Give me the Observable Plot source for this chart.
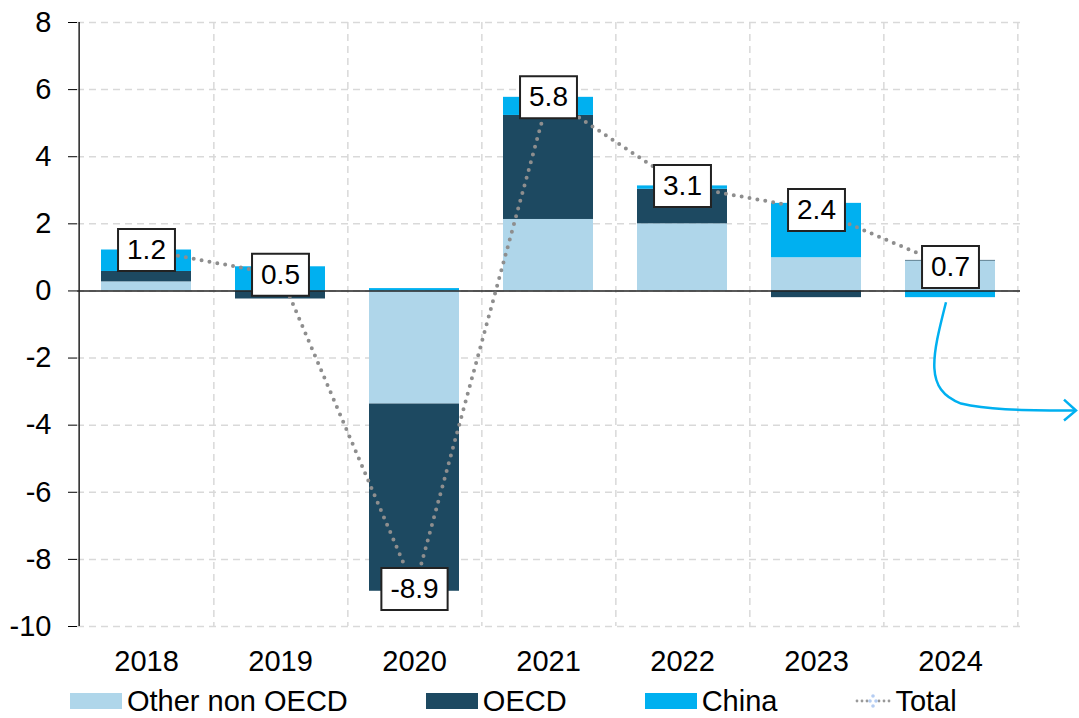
<!DOCTYPE html>
<html>
<head>
<meta charset="utf-8">
<script src="https://cdn.jsdelivr.net/npm/d3@7"></script>
<script src="https://cdn.jsdelivr.net/npm/@observablehq/plot@0.6"></script>
<style>
  html, body { margin: 0; background: #fff; font-family: "Liberation Sans", Arial, sans-serif; overflow: hidden; }
  #legend { display: flex; align-items: center; height: 34px; padding-left: 70px; font-size: 29px; color: #000; line-height: 34px; }
  .item { display: flex; align-items: center; margin-right: 78px; }
  .sw { width: 52px; height: 16px; margin-right: 5px; }
</style>
</head>
<body>
<div id="chart"></div>
<div id="legend"></div>
<script>
// ---- data ----
const years = ["2018", "2019", "2020", "2021", "2022", "2023", "2024"];
const seriesNames = ["Other non OECD", "OECD", "China"];
const seriesColors = ["#afd6ea", "#1d4961", "#00b0f0"];
const otherNonOECD = [0.27, 0.0, -3.37, 2.13, 2.0, 0.99, 0.89];
const oecd = [0.31, -0.24, -5.58, 3.1, 1.03, -0.2, 0.02];
const china = [0.64, 0.72, 0.07, 0.54, 0.1, 1.62, -0.2];
const yTicks = [-10, -8, -6, -4, -2, 0, 2, 4, 6, 8];
const totalName = "Total";

// ---- derived tables ----
const seriesValues = [otherNonOECD, oecd, china];
const rows = [];
seriesNames.forEach((s, k) => years.forEach((y, i) => rows.push({year: y, series: s, value: seriesValues[k][i]})));
const totals = years.map((y, i) => {
  const t = otherNonOECD[i] + oecd[i] + china[i];
  return {year: y, total: t, label: t.toFixed(1)};
});

// ---- layout ----
const width = 1079, height = 684;
const marginLeft = 77, marginRight = 59, marginTop = 22, marginBottom = 58;
const step = (width - marginLeft - marginRight) / years.length;
const font = '"Liberation Sans", Arial, sans-serif';

const cv = document.createElement("canvas").getContext("2d");
cv.font = `28px ${font}`;
const halfBox = (s) => cv.measureText(s).width / 2 + 9;

const boxSymbol = {
  draw(ctx, size) {
    const w = Math.sqrt(size / Math.PI), h = 21;
    ctx.moveTo(-w, -h); ctx.lineTo(w, -h); ctx.lineTo(w, h); ctx.lineTo(-w, h); ctx.closePath();
  }
};

const grid = {stroke: "#d9d9d9", strokeWidth: 1.5, strokeDasharray: "7,5"};

const chart = Plot.plot({
  width, height, marginLeft, marginRight, marginTop, marginBottom,
  style: {fontFamily: font, fontSize: "29px", color: "#000", background: "#fff", overflow: "visible"},
  x: {domain: years, paddingInner: 0.325, paddingOuter: 0.1625, label: null, tickSize: 0, tickPadding: 24},
  y: {domain: [-10, 8], ticks: yTicks, label: null, tickSize: 9, tickPadding: 17, tickFormat: d => String(d)},
  color: {domain: seriesNames, range: seriesColors},
  r: {type: "identity"},
  marks: [
    Plot.ruleY(yTicks, grid),
    Plot.ruleX(years, {...grid, dx: step / 2}),
    Plot.barY(rows, {x: "year", y: "value", fill: "series", order: seriesNames}),
    Plot.ruleY([0], {stroke: "#222", strokeWidth: 1.5}),
    Plot.ruleX([years[0]], {dx: -step / 2, stroke: "#222", strokeWidth: 1.5}),
    Plot.line(totals, {x: "year", y: "total", stroke: "#8e8e8e", strokeWidth: 4, strokeDasharray: "0,8", strokeLinecap: "round"}),
    Plot.dot(totals, {x: "year", y: "total", r: d => halfBox(d.label), symbol: boxSymbol, fill: "#fff", stroke: "#222", strokeWidth: 2}),
    Plot.text(totals, {x: "year", y: "total", text: "label", fontSize: 28, fill: "#000"})
  ]
});
document.getElementById("chart").appendChild(chart);

// ---- annotation arrow (from the 2024 bar, derived from the scales) ----
const xs = chart.scale("x"), ys = chart.scale("y");
const sx = xs.apply("2024") + xs.bandwidth / 2 - 4;
const sy = ys.apply(-0.35);
const ex = width - 3;
const ey = ys.apply(-3.55);
const svg = d3.select(chart.tagName === "svg" ? chart : chart.querySelector("svg"));
svg.append("path")
  .attr("d", `M${sx},${sy} C${sx - 14},${sy + 55} ${sx - 22},${ey - 20} ${sx + 15},${ey - 6} C${sx + 40},${ey} ${ex - 60},${ey + 1} ${ex},${ey + 1}`)
  .attr("fill", "none").attr("stroke", "#00b0f0").attr("stroke-width", 2.5);
svg.append("path")
  .attr("d", `M${ex - 12},${ey - 10} L${ex},${ey + 1} L${ex - 12},${ey + 11}`)
  .attr("fill", "none").attr("stroke", "#00b0f0").attr("stroke-width", 2.5);

// ---- legend ----
const legend = d3.select("#legend");
seriesNames.forEach((s, k) => {
  const it = legend.append("div").attr("class", "item");
  it.append("div").attr("class", "sw").style("background", seriesColors[k]);
  it.append("span").text(s);
});
const tot = legend.append("div").attr("class", "item");
const tsvg = tot.append("svg").attr("width", 36).attr("height", 16).style("margin-right", "4px");
[2, 7, 12, 24, 29, 34].forEach(cx => tsvg.append("circle").attr("cx", cx).attr("cy", 8).attr("r", 1.4).attr("fill", "#999"));
[[18, 3], [15, 8], [21, 8], [18, 13]].forEach(([cx, cy]) => tsvg.append("circle").attr("cx", cx).attr("cy", cy).attr("r", 1.8).attr("fill", "#b5cdf2"));
tot.append("span").text(totalName);
</script>
</body>
</html>
